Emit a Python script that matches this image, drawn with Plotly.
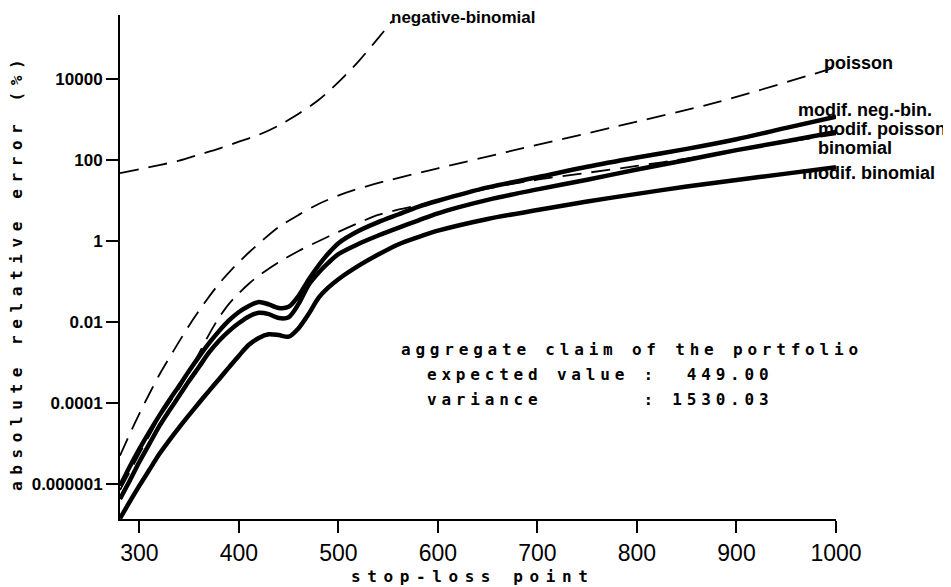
import plotly.graph_objects as go

# ---------------- data ----------------
x_mod = [280.5, 290, 300, 310, 320, 330, 340, 350, 360, 370, 380, 390, 400, 410, 420, 430,
         440, 450, 460, 470, 480, 490, 500, 520, 540, 560, 580, 600, 650, 700, 750, 800,
         850, 900, 950, 1000]
modif_negbin = [8.9e-7, 2.6e-6, 7.4e-6, 1.95e-5, 4.9e-5, 1.17e-4, 2.69e-4, 6.3e-4, 1.41e-3,
                3.02e-3, 6.0e-3, 1.10e-2, 1.78e-2, 2.51e-2, 3.16e-2, 2.75e-2, 2.24e-2, 2.40e-2,
                4.47e-2, 0.112, 0.251, 0.501, 0.891, 1.78, 2.95, 4.57, 7.08, 10.0, 21.4, 38.0,
                69.2, 117, 191, 331, 631, 1202]
modif_poisson = [4.27e-7, 1.17e-6, 3.55e-6, 9.8e-6, 2.69e-5, 6.5e-5, 1.51e-4, 3.55e-4, 7.9e-4,
                 1.78e-3, 3.47e-3, 6.0e-3, 9.5e-3, 1.38e-2, 1.70e-2, 1.58e-2, 1.26e-2, 1.32e-2,
                 2.82e-2, 8.3e-2, 0.166, 0.295, 0.479, 0.851, 1.38, 2.14, 3.24, 4.90, 10.5, 19.1,
                 33.1, 58.9, 102, 178, 295, 501]
modif_binomial = [1.41e-7, 3.55e-7, 9.1e-7, 2.24e-6, 5.5e-6, 1.20e-5, 2.51e-5, 5.1e-5, 1.02e-4,
                  2.0e-4, 3.89e-4, 7.6e-4, 1.48e-3, 2.75e-3, 4.07e-3, 5.0e-3, 4.79e-3, 4.37e-3,
                  7.1e-3, 1.58e-2, 3.98e-2, 7.2e-2, 0.115, 0.245, 0.468, 0.832, 1.26, 1.82, 3.55,
                  5.89, 9.55, 14.8, 22.4, 32.4, 46.8, 67.6]

x_bin = [280.5, 290, 300, 310, 320, 330, 340, 350, 360, 370, 380, 390, 400, 410, 420, 440, 460,
         480, 500, 520, 540, 560, 580, 600, 650, 700, 750, 800, 850, 900, 950, 1000]
binomial = [7.1e-7, 1.91e-6, 5.6e-6, 1.58e-5, 4.37e-5, 1.0e-4, 2.29e-4, 6.0e-4, 1.70e-3, 5.0e-3,
            1.29e-2, 2.82e-2, 5.2e-2, 8.9e-2, 0.141, 0.302, 0.575, 1.0, 1.70, 2.82, 4.47, 6.03,
            7.76, 10.0, 20.0, 33.1, 49.0, 72.4, 110, 174, 282, 437]

x_poi = [280.5, 290, 300, 310, 320, 335, 350, 365, 380, 395, 410, 425, 440, 460, 480, 510, 545,
         600, 670, 780, 880, 980, 1000]
poisson = [5.0e-6, 1.66e-5, 5.5e-5, 1.70e-4, 5.0e-4, 2.09e-3, 8.3e-3, 2.88e-2, 8.9e-2, 0.229,
           0.525, 1.12, 2.24, 4.47, 8.32, 16.6, 29.5, 63.1, 162, 692, 2692, 14125, 19953]

x_nb = [280.5, 300, 320, 340, 360, 380, 400, 420, 440, 460, 480, 500, 520, 540, 554]
negative_binomial = [47.9, 60.3, 75.9, 97.7, 138, 195, 288, 427, 724, 1413, 3090, 8511, 27542,
                     104713, 275423]

x_ticks = [300, 400, 500, 600, 700, 800, 900, 1000]
y_ticks = [1e-6, 1e-4, 1e-2, 1, 100, 10000]
y_tick_text = ["0.000001", "0.0001", "0.01", "1", "100", "10000"]

labels = ["negative-binomial", "poisson", "modif. neg.-bin.", "modif. poisson",
          "binomial", "modif. binomial"]
info_lines = ["aggregate claim of the portfolio",
              "expected value :  449.00",
              "variance       : 1530.03"]

# ---------------- figure ----------------
fig = go.Figure()
dash = "19px,10px"
for xv, yv in ((x_nb, negative_binomial), (x_poi, poisson), (x_bin, binomial)):
    fig.add_trace(go.Scatter(x=xv, y=yv, mode="lines", hoverinfo="skip",
                             line=dict(color="black", width=1.8, dash=dash, shape="spline",
                                       smoothing=0.8)))
for yv in (modif_negbin, modif_poisson, modif_binomial):
    fig.add_trace(go.Scatter(x=x_mod, y=yv, mode="lines", hoverinfo="skip",
                             line=dict(color="black", width=4.5, shape="spline", smoothing=0.8)))

# the page body has an 8px margin, so the figure is drawn 8px right/down
W, H = 951, 587
OFF = 8
L, T = 120 - OFF, 15 - OFF
R = W - (836 - OFF)
B = H - (519 - OFF)
pw, ph = 716, 504


def px(xp):
    return (xp - 120) / pw


def py(yp):
    return (519 - yp) / ph


label_font = dict(family="Liberation Sans, Arial, sans-serif", size=18, color="black", weight="bold")
label_pos = [(389, 18), (822, 63), (796, 110), (816, 129), (816, 148), (800, 173)]
annotations = []
for i, (txt, (lx, ly)) in enumerate(zip(labels, label_pos)):
    f = dict(label_font)
    if i == 0:
        f["size"] = 17
    annotations.append(dict(text=txt, x=px(lx), y=py(ly), xref="paper", yref="paper",
                            xanchor="left", yanchor="middle", showarrow=False, font=f))

mono = dict(family="DejaVu Sans Mono, Liberation Mono, monospace", size=16, color="black",
            weight="bold")
info_pos = [(399, 349), (425, 374), (425, 399)]
for txt, (lx, ly) in zip(info_lines, info_pos):
    t = txt.replace(" ", "\u00a0")
    annotations.append(dict(text='<span style="letter-spacing:4.8px">' + t + "</span>",
                            x=px(lx), y=py(ly), xref="paper", yref="paper",
                            xanchor="left", yanchor="middle", showarrow=False, font=mono))

# axis titles
annotations.append(dict(text='<span style="letter-spacing:6.6px">stop-loss\u00a0point</span>',
                        x=px(473), y=py(576), xref="paper", yref="paper", xanchor="center",
                        yanchor="middle", showarrow=False, font=mono))
annotations.append(dict(text='<span style="letter-spacing:6.6px">absolute\u00a0relative\u00a0error\u00a0(%)</span>',
                        x=px(16), y=py(272), xref="paper", yref="paper", xanchor="center",
                        yanchor="middle", showarrow=False, textangle=-90, font=mono))

fig.update_layout(
    width=W, height=H,
    margin=dict(l=L, r=R, t=T, b=B),
    paper_bgcolor="white", plot_bgcolor="white",
    showlegend=False,
    annotations=annotations,
    xaxis=dict(range=[280.5, 1000], tickvals=x_ticks, showgrid=False, zeroline=False,
               showline=True, linecolor="black", linewidth=2, ticks="outside", ticklen=12,
               tickwidth=2, tickcolor="black",
               tickfont=dict(family="Liberation Sans, Arial, sans-serif", size=23, color="black")),
    yaxis=dict(type="log", range=[-6.865, 5.59], tickvals=y_ticks, ticktext=y_tick_text,
               showgrid=False, zeroline=False, showline=True, linecolor="black", linewidth=2,
               ticks="outside", ticklen=12, tickwidth=2, tickcolor="black",
               tickfont=dict(family="Liberation Sans, Arial, sans-serif", size=17, color="black",
                             weight="bold")),
)

fig.write_html("out.html")
